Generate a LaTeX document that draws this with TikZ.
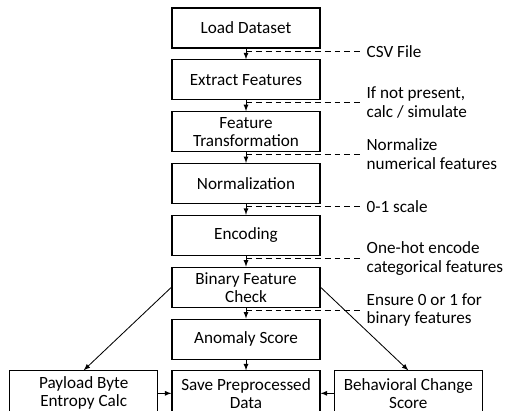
\documentclass[tikz,border=0pt]{standalone}
\usepackage{fontspec}
\setmainfont{Carlito}
\usetikzlibrary{positioning,calc}

\begin{document}
\begin{tikzpicture}[>=latex,
  box/.style={draw, line width=.8pt, minimum width=3.7cm, minimum height=1cm,
    align=center, inner sep=1pt, font=\fontsize{12.2}{12.8}\selectfont},
  lowbox/.style={box, minimum height=1.12cm},
  flow/.style={->, line width=.6pt},
  note/.style={line width=.6pt, dash pattern=on 4.2pt off 2.8pt},
  notetext/.style={right, align=left, inner sep=3pt, font=\fontsize{12.2}{13.4}\selectfont},
  node distance=.268cm]
\useasboundingbox (0,0) rectangle (12.8,-10.25);

% main column
\node[box] (load) at (6.15,-.7) {Load Dataset};
\node[box, below=of load] (extract) {Extract Features};
\node[box, below=of extract] (transf) {Feature\\Transformation};
\node[box, below=of transf] (norm) {Normalization};
\node[box, below=of norm] (enc) {Encoding};
\node[box, below=of enc] (binchk) {Binary Feature\\Check};
\node[box, below=of binchk] (anom) {Anomaly Score};
\node[lowbox, below=of anom] (save) {Save Preprocessed\\Data};
% side boxes
\node[lowbox, left=.33cm of save] (payload) {Payload Byte\\Entropy Calc};
\node[lowbox, right=.33cm of save] (behav) {Behavioral Change\\Score};

\draw[flow] (load) -- (extract);
\draw[flow] (extract) -- (transf);
\draw[flow] (transf) -- (norm);
\draw[flow] (norm) -- (enc);
\draw[flow] (enc) -- (binchk);
\draw[flow] (binchk) -- (anom);
\draw[flow] (anom) -- (save);
\draw[flow] (binchk.west) -- (payload.north);
\draw[flow] (binchk.east) -- (behav.north);
\draw[flow] (payload) -- (save);
\draw[flow] (behav) -- (save);

% notes on the side
\coordinate (edge) at (9.05,0);
\coordinate (n1) at ($(load.south)!.3!(extract.north)$);
\coordinate (n2) at ($(extract.south)!.2!(transf.north)$);
\coordinate (n3) at ($(transf.south)!.2!(norm.north)$);
\coordinate (n4) at ($(norm.south)!.25!(enc.north)$);
\coordinate (n5) at ($(enc.south)!.25!(binchk.north)$);
\coordinate (n6) at ($(binchk.south)!.2!(anom.north)$);
\draw[note] (n1) -- (n1 -| edge) node[notetext] (t1) {CSV File};
\draw[note] (n2) -- (n2 -| edge) node[notetext] (t2) {If not present,\\calc / simulate};
\draw[note] (n3) -- (n3 -| edge) node[notetext] (t3) {Normalize\\numerical features};
\draw[note] (n4) -- (n4 -| edge) node[notetext] (t4) {0-1 scale};
\draw[note] (n5) -- (n5 -| edge) node[notetext] (t5) {One-hot encode\\categorical features};
\draw[note] (n6) -- (n6 -| edge) node[notetext] (t6) {Ensure 0 or 1 for\\binary features};
\end{tikzpicture}
\end{document}
